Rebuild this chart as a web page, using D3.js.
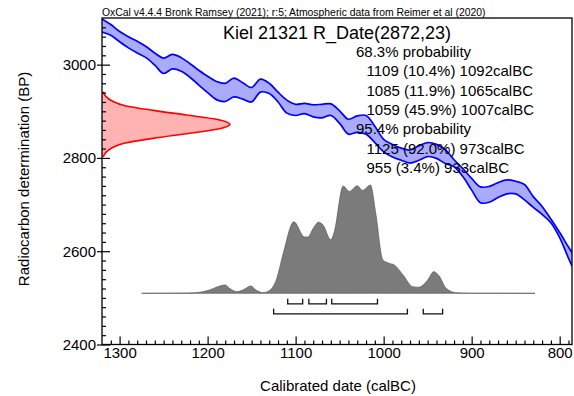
<!DOCTYPE html>
<html>
<head>
<meta charset="utf-8">
<script src="https://cdn.jsdelivr.net/npm/d3@7"></script>
<style>
  body { margin: 0; background: #fff; }
  svg { display: block; font-family: "Liberation Sans", Arial, sans-serif; }
</style>
</head>
<body>
<div id="chart"></div>
<script>
// Curva de calibração (anos calBC, limites superior e inferior em BP)
var calYears = [1320,1310,1300,1290,1280,1270,1260,1250,1240,1230,1220,1210,1200,1190,1180,1170,1160,1150,1140,1130,
    1120,1110,1100,1090,1080,1070,1060,1050,1040,1030,1020,1010,1000,990,980,970,960,950,940,930,
    920,910,900,890,880,870,860,850,840,830,820,810,800,790,785];
var curveHiBP = [3098,3086,3071,3060,3050,3039,3025,3014,3022,3015,3002,2988,2975,2964,2960,2971,2961,2951,2969,2960,
    2941,2924,2915,2917,2914,2915,2916,2901,2883,2890,2891,2868,2840,2829,2821,2817,2826,2833,2829,2818,
    2796,2777,2756,2738,2739,2747,2753,2750,2743,2717,2696,2669,2640,2609,2594];
var curveLoBP = [3070,3063,3049,3036,3025,3015,2999,2981,2991,2986,2973,2956,2940,2925,2921,2931,2926,2920,2941,2938,
    2920,2896,2891,2895,2888,2886,2891,2874,2851,2855,2851,2833,2813,2802,2795,2789,2795,2803,2799,2788,
    2781,2760,2731,2704,2705,2715,2723,2723,2710,2694,2679,2661,2629,2585,2564];

// Determinação radiocarbônica (BP e probabilidade relativa)
var dateBP = [2942,2932,2922,2912,2902,2892,2882,2872,2862,2852,2842,2832,2822,2812,2802];
var dateProb = [0.01,0.03,0.08,0.18,0.40,0.66,0.91,1.0,0.91,0.66,0.40,0.18,0.08,0.03,0.01];

// Distribuição calibrada
var distYears = [1275,1230,1213,1198,1186,1180,1175,1167,1160,1151,1145,1137,1130,1122,1114,1102,1090,1086,1080,1074,
    1069,1060,1056,1046,1039,1030,1024,1015,1009,1001,994,988,978,967,960,950,943,937,929,918,900,828];
var distProb = [0,0.002,0.006,0.03,0.068,0.077,0.046,0.015,0.03,0.068,0.03,0.006,0.024,0.123,0.37,0.66,0.52,0.52,0.60,0.657,
    0.632,0.494,0.57,0.99,0.94,0.994,0.95,1.0,0.74,0.31,0.278,0.262,0.17,0.061,0.056,0.123,0.2,0.16,0.046,0.006,0.001,0];

// Intervalos
var range68 = [[1109,1092],[1085,1065],[1059,1007]];
var range95 = [[1125,973],[955,933]];

// Eixos
var xTicks = [1300,1200,1100,1000,900,800];
var yTicks = [2400,2600,2800,3000];

var headerText = "OxCal v4.4.4 Bronk Ramsey (2021); r:5; Atmospheric data from Reimer et al (2020)";
var titleText = "Kiel 21321 R_Date(2872,23)";
var resultLines = [
    { t: "68.3% probability", indent: 0 },
    { t: "1109 (10.4%) 1092calBC", indent: 1 },
    { t: "1085 (11.9%) 1065calBC", indent: 1 },
    { t: "1059 (45.9%) 1007calBC", indent: 1 },
    { t: "95.4% probability", indent: 0 },
    { t: "1125 (92.0%) 973calBC", indent: 1 },
    { t: "955 (3.4%) 933calBC", indent: 1 }
];

var W = 574, H = 396;
var plot = { left: 102, right: 572, top: 18, bottom: 344.5 };

var svg = d3.select("#chart").append("svg")
    .attr("width", W)
    .attr("height", H);

var x = d3.scaleLinear().domain([1320, 786]).range([plot.left, plot.right]);
var y = d3.scaleLinear().domain([2400, 3100]).range([plot.bottom, plot.top]);

// escala da curva vermelha (prob -> deslocamento horizontal)
var redX = d3.scaleLinear().domain([0, 1]).range([plot.left, 230]);
// escala da distribuição cinza
var distBase = 293.3;
var distY = d3.scaleLinear().domain([0, 1]).range([distBase, 185]);

svg.append("defs").append("clipPath").attr("id", "plotClip")
    .append("rect")
    .attr("x", plot.left).attr("y", plot.top)
    .attr("width", plot.right - plot.left).attr("height", plot.bottom - plot.top);

var g = svg.append("g").attr("clip-path", "url(#plotClip)");

// Curva vermelha
var redData = dateBP.map((d, i) => ({ bp: d, p: dateProb[i] }));
g.append("path")
    .datum(redData)
    .attr("d", d3.area()
        .curve(d3.curveMonotoneY)
        .y(d => y(d.bp))
        .x0(plot.left)
        .x1(d => redX(d.p)))
    .style("fill", "#ffb3b3")
    .style("stroke", "none");
g.append("path")
    .datum(redData)
    .attr("d", d3.line()
        .curve(d3.curveMonotoneY)
        .y(d => y(d.bp))
        .x(d => redX(d.p)))
    .style("fill", "none")
    .style("stroke", "#ff0000")
    .style("stroke-width", 1.6);

// Distribuição calibrada
var distData = distYears.map((d, i) => ({ yr: d, p: distProb[i] }));
g.append("path")
    .datum(distData)
    .attr("d", d3.area()
        .curve(d3.curveMonotoneX)
        .x(d => x(d.yr))
        .y0(distBase)
        .y1(d => distY(d.p)))
    .style("fill", "#7b7b7b")
    .style("stroke", "#5a5a5a")
    .style("stroke-width", 0.7);

// Curva de calibração
var curveData = calYears.map((d, i) => ({ yr: d, hi: curveHiBP[i], lo: curveLoBP[i] }));
var bandCurve = d3.curveCatmullRom.alpha(0.5);
g.append("path")
    .datum(curveData)
    .attr("d", d3.area()
        .curve(bandCurve)
        .x(d => x(d.yr))
        .y0(d => y(d.lo))
        .y1(d => y(d.hi)))
    .style("fill", "#aaaaff");
["hi", "lo"].forEach(k => {
    g.append("path")
        .datum(curveData)
        .attr("d", d3.line()
            .curve(bandCurve)
            .x(d => x(d.yr))
            .y(d => y(d[k])))
        .style("fill", "none")
        .style("stroke", "#0000ff")
        .style("stroke-width", 1.7);
});

// Intervalos (colchetes)
function brackets(ranges, yy) {
    svg.append("g").selectAll("path")
        .data(ranges)
        .enter().append("path")
        .attr("d", d => `M${x(d[0])},${yy - 5}V${yy}H${x(d[1])}V${yy - 5}`)
        .style("fill", "none")
        .style("stroke", "#111")
        .style("stroke-width", 1.3);
}
brackets(range68, distBase + 10.5);
brackets(range95, distBase + 20.5);

// Eixo X
var xMinor = d3.range(790, 1320, 10).filter(v => xTicks.indexOf(v) < 0);
svg.append("g")
    .attr("transform", `translate(0,${plot.bottom})`)
    .call(d3.axisBottom(x).tickValues(xMinor).tickSize(-4).tickFormat(""))
    .call(a => a.select(".domain").remove());
svg.append("g")
    .attr("transform", `translate(0,${plot.bottom})`)
    .call(d3.axisBottom(x).tickValues(xTicks).tickSize(-8).tickPadding(3).tickFormat(d3.format("d")))
    .call(a => a.select(".domain").remove())
    .call(a => a.selectAll("text").style("font-size", "15px").style("font-family", null));

// Eixo Y
var yMinor = d3.range(2400, 3100, 20).filter(v => yTicks.indexOf(v) < 0);
svg.append("g")
    .attr("transform", `translate(${plot.left},0)`)
    .call(d3.axisLeft(y).tickValues(yMinor).tickSize(-4).tickFormat(""))
    .call(a => a.select(".domain").remove());
svg.append("g")
    .attr("transform", `translate(${plot.left},0)`)
    .call(d3.axisLeft(y).tickValues(yTicks).tickSize(-8).tickFormat(""))
    .call(a => a.select(".domain").remove());
svg.append("g")
    .attr("transform", `translate(${plot.left},0)`)
    .call(d3.axisLeft(y).tickValues(yTicks).tickSize(5).tickPadding(1).tickFormat(d3.format("d")))
    .call(a => a.select(".domain").remove())
    .call(a => a.selectAll("text").style("font-size", "15px").style("font-family", null));

svg.selectAll(".tick line").style("stroke", "#000").style("stroke-width", 1.2);

// Moldura
svg.append("rect")
    .attr("x", plot.left).attr("y", plot.top)
    .attr("width", plot.right - plot.left).attr("height", plot.bottom - plot.top)
    .style("fill", "none")
    .style("stroke", "#000")
    .style("stroke-width", 1.3);

// Títulos dos eixos
svg.append("text")
    .attr("x", 338).attr("y", 390.5)
    .attr("text-anchor", "middle")
    .style("font-size", "15px")
    .text("Calibrated date (calBC)");
svg.append("text")
    .attr("transform", "translate(29,179) rotate(-90)")
    .attr("text-anchor", "middle")
    .style("font-size", "15px")
    .text("Radiocarbon determination (BP)");

// Cabeçalho e título
svg.append("text")
    .attr("x", plot.left).attr("y", 16)
    .style("font-size", "10.4px")
    .text(headerText);
svg.append("text")
    .attr("x", 337).attr("y", 38.5)
    .attr("text-anchor", "middle")
    .style("font-size", "18px")
    .text(titleText);

// Bloco de resultados
svg.append("g").selectAll("text")
    .data(resultLines)
    .enter().append("text")
    .attr("x", d => d.indent ? 366.5 : 356)
    .attr("y", (d, i) => 57 + i * 19.3)
    .style("font-size", "15px")
    .text(d => d.t);
</script>
</body>
</html>
